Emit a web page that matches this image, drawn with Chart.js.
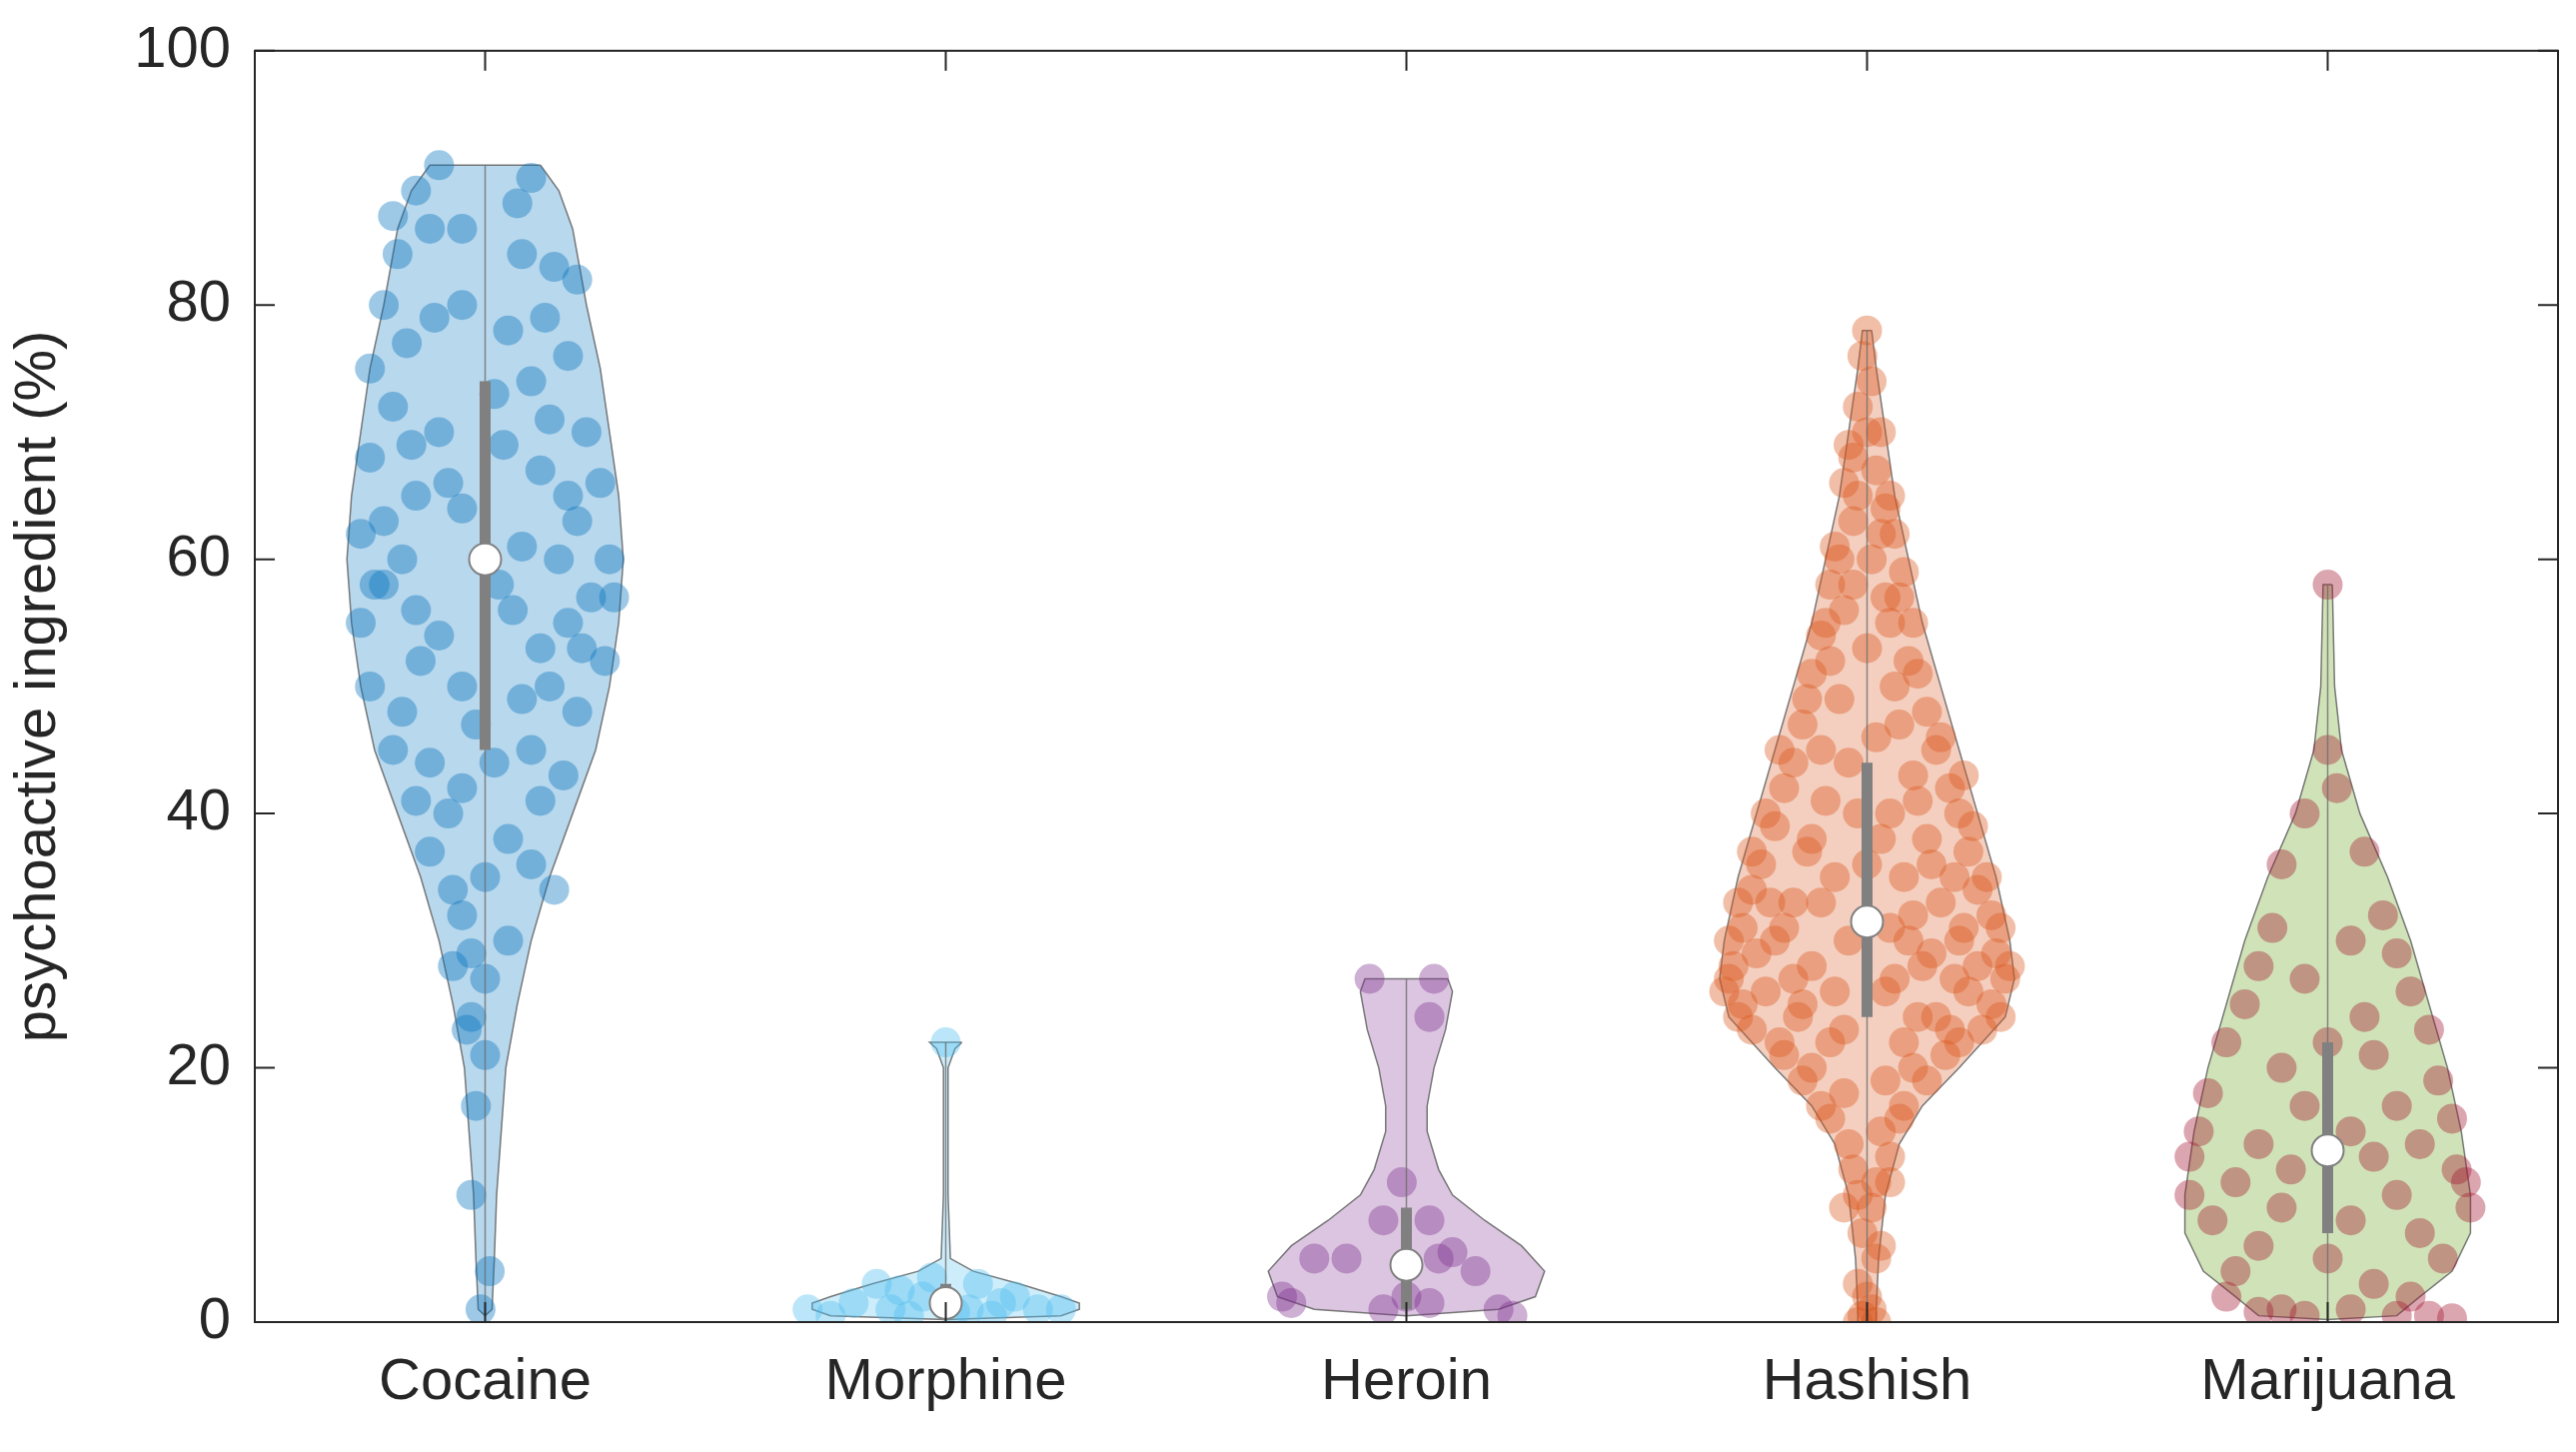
<!DOCTYPE html>
<html><head><meta charset="utf-8">
<script src="https://cdn.jsdelivr.net/npm/chart.js@4"></script>
<style>html,body{margin:0;padding:0;background:#fff}#w{width:2578px;height:1453px}</style>
</head><body><div id="w"><canvas id="c"></canvas></div>
<script>
const categories=["Cocaine","Morphine","Heroin","Hashish","Marijuana"];
const yTicks=[0,20,40,60,80,100];
const colors=["0,114,189","77,190,238","126,47,142","217,83,25","119,172,48"];
const pointColors=["0,114,189","77,190,238","126,47,142","217,83,25","162,20,47"];
// violin profiles: [value, half-width]
const violinCocaine=[[91,.12],[89,.16],[86,.19],[80,.22],[75,.25],[70,.27],[65,.29],[60,.3],[55,.29],[50,.27],[45,.24],[40,.19],[35,.14],[30,.1],[25,.07],[20,.045],[15,.035],[10,.025],[5,.02],[1,.015],[0.5,0]];
const violinMorphine=[[22,.035],[21.5,.02],[20,.005],[10,.005],[5,.01],[4,.06],[3,.16],[2,.25],[1.5,.29],[1,.29],[0.5,.25],[0.2,0]];
const violinHeroin=[[27,.09],[26,.1],[23,.085],[20,.06],[17,.045],[15,.045],[12,.07],[10,.1],[8,.17],[6,.25],[4,.3],[2,.28],[1,.2],[0.5,0]];
const violinHashish=[[78,.01],[75,.02],[70,.04],[65,.06],[60,.09],[55,.12],[50,.16],[45,.2],[40,.24],[35,.28],[30,.31],[27,.32],[24,.3],[20,.2],[17,.12],[14,.07],[10,.04],[5,.025],[1,.02],[0,.02]];
const violinMarijuana=[[58,.01],[50,.015],[45,.03],[40,.07],[35,.13],[30,.18],[25,.22],[20,.26],[15,.29],[10,.31],[7,.31],[4,.27],[2,.2],[0.5,.15],[0.2,0]];
const violins=[violinCocaine,violinMorphine,violinHeroin,violinHashish,violinMarijuana];
// quartiles, medians, ranges
const q1=[45,1,1,24,7], q3=[74,3,9,44,22], medians=[60,1.5,4.5,31.5,13.5];
const mins=[0.5,0.2,0.5,0,0.2], maxs=[91,22,27,78,58];
// sample points: [x offset, value]
const ptsCocaine=[[-.1,91],[.1,90],[-.15,89],[.07,88],[-.2,87],[-.12,86],[-.05,86],[.15,83],[.2,82],[-.22,80],[-.05,80],[.05,78],[.18,76],[-.25,75],[.1,74],[-.2,72],[.02,73],[-.1,70],[.22,70],[-.25,68],[.12,67],[-.15,65],[.25,66],[-.05,64],[.2,63],[-.27,62],[.08,61],[-.18,60],[.27,60],[-.22,58],[.23,57],[.28,57],[-.27,55],[.18,55],[-.1,54],[.12,53],[.26,52],[-.25,50],[-.05,50],[.08,49],[-.18,48],[.2,48],[-.2,45],[-.12,44],[.1,45],[.17,43],[-.05,42],[.12,41],[-.08,40],[.05,38],[-.12,37],[.1,36],[.15,34],[-.05,32],[.05,30],[-.03,29],[-.07,28],[0,27],[-.03,24],[-.04,23],[0,21],[-.02,17],[-.03,10],[.01,4],[-.01,1],[-.17,77],[.14,71],[-.08,66],[.03,58],[-.14,52],[.06,56],[-.22,63],[.16,60],[-.19,84],[.08,84],[-.11,79],[.13,79],[-.16,69],[.04,69],[.18,65],[-.24,58],[.21,53],[-.15,56],[-.02,47],[.14,50],[-.15,41],[.02,44],[.0,35],[-.07,34]];
const ptsMorphine=[[0,22],[-.3,1],[-.2,1.5],[-.12,1],[-.05,2],[.05,1],[.12,1.5],[.2,1],[-.15,3],[-.03,3.5],[.07,3],[.15,2],[.25,1],[-.25,.5],[.1,.5],[-.08,.5],[-.1,2.5],[.02,.8]];
const ptsHeroin=[[-.08,27],[.06,27],[.05,24],[-.01,11],[-.05,8],[.05,8],[-.2,5],[-.13,5],[.07,5],[.15,4],[-.27,2],[-.25,1.5],[-.05,1],[.05,1.5],[.2,1],[.23,.5],[0,2],[.1,5.5]];
const ptsHashish=[[0,78],[-.01,76],[.01,74],[-.02,72],[.03,70],[-.04,69],[.02,67],[-.05,66],[.05,65],[-.03,63],[.06,62],[-.07,61],[.01,60],[.08,59],[-.08,58],[.04,57],[-.05,56],[.1,55],[-.1,54],[0,53],[.09,52],[-.12,51],[.06,50],[-.06,49],[.13,48],[-.14,47],[.02,46],[.15,45],[-.16,44],[-.04,44],[.1,43],[.18,42],[-.18,42],[-.09,41],[.05,40],[.2,40],[-.2,39],[.13,38],[-.12,38],[.22,37],[-.23,36],[0,36],[.08,35],[-.07,35],[.24,34],[-.25,34],[.16,33],[-.16,33],[.27,32],[-.27,31],[.05,31],[-.04,30],[.2,30],[-.2,30],[.28,29],[-.29,28],[.12,28],[-.12,28],[.3,27],[-.3,27],[.22,26],[-.22,26],[.04,26],[.27,25],[-.27,25],[.15,24],[-.15,24],[.25,23],[-.25,23],[.08,22],[-.08,22],[.17,21],[-.18,21],[.1,20],[-.12,20],[.04,19],[-.05,18],[.08,17],[-.08,16],[.03,15],[-.04,14],[.05,13],[-.03,12],[.02,11],[-.02,10],[.01,9],[-.01,7],[.02,5],[-.02,3],[0,2],[.01,1],[-.01,.5],[.02,0],[-.02,0],[.19,35],[-.1,33],[.1,32],[-.18,31],[.24,28],[-.24,29],[.06,27],[-.07,26],[.19,27],[-.14,25],[.11,24],[-.05,23],[.2,22],[.14,36],[-.13,37],[.11,41],[-.1,45],[.07,47],[-.08,52],[.05,55],[-.03,58],[.03,62],[-.02,65],[.14,29],[-.16,27],[.09,30],[.21,31],[-.21,33],[.03,38],[-.02,40],[.0,70],[-.03,68],[.04,64],[-.06,60],[.07,57],[-.09,55],[.11,51],[-.13,49],[.16,46],[-.19,45],[.21,43],[-.22,40],[.23,39],[-.25,37],[.26,35],[-.28,33],[.29,31],[-.3,30],[.31,28],[-.31,26],[.29,24],[-.28,24],[.18,23],[-.19,22],[.13,19],[-.14,19],[.07,16],[-.1,17],[.05,11],[-.05,9],[.03,6]];
const ptsMarijuana=[[0,58],[0,45],[.02,42],[-.05,40],[.08,37],[-.1,36],[.12,32],[-.12,31],[.05,30],[.15,29],[-.15,28],[-.05,27],[.18,26],[-.18,25],[.08,24],[.22,23],[-.22,22],[0,22],[.1,21],[-.1,20],[.24,19],[-.26,18],[.15,17],[-.05,17],[.27,16],[-.28,15],[.05,15],[-.15,14],[.2,14],[-.3,13],[.1,13],[-.08,12],[.28,12],[.3,11],[-.2,11],[.15,10],[-.3,10],[-.1,9],[.31,9],[.05,8],[-.25,8],[.2,7],[-.15,6],[.25,5],[0,5],[-.2,4],[.1,3],[-.22,2],[.18,2],[-.1,1],[.05,1],[-.15,.8],[.15,.5],[.22,.5],[-.05,.5],[.27,.3]];
const points=[ptsCocaine,ptsMorphine,ptsHeroin,ptsHashish,ptsMarijuana];

const datasets=[];
violins.forEach((v,i)=>{
  const x=i+1;
  const outline=v.map(p=>({x:x+p[1],y:p[0]})).concat(v.slice().reverse().map(p=>({x:x-p[1],y:p[0]})));
  outline.push(outline[0]);
  datasets.push({type:'line',data:outline,borderColor:'rgba(90,90,90,0.8)',borderWidth:1.5,backgroundColor:`rgba(${colors[i]},${i==4?0.35:0.28})`,fill:'shape',pointRadius:0,tension:0,order:5});
});
points.forEach((p,i)=>{
  datasets.push({type:'scatter',data:p.map(q=>({x:i+1+q[0],y:q[1]})),backgroundColor:`rgba(${pointColors[i]},0.38)`,borderWidth:0,pointRadius:15,order:4});
});
categories.forEach((c,i)=>{
  datasets.push({type:'line',data:[{x:i+1,y:mins[i]},{x:i+1,y:maxs[i]}],borderColor:'rgba(110,110,110,0.8)',borderWidth:1.5,pointRadius:0,order:3});
  datasets.push({type:'line',data:[{x:i+1,y:q1[i]},{x:i+1,y:q3[i]}],borderColor:'rgb(128,128,128)',borderWidth:11,pointRadius:0,borderCapStyle:'butt',order:2});
  datasets.push({type:'scatter',data:[{x:i+1,y:medians[i]}],backgroundColor:'#fff',borderColor:'rgb(128,128,128)',borderWidth:2,pointRadius:16,order:1});
});

const frame={id:'frame',afterDraw(ch){
  const {ctx,chartArea:a,scales:{x,y}}=ch;
  ctx.save();ctx.strokeStyle='#262626';ctx.lineWidth=2;
  ctx.strokeRect(a.left,a.top,a.right-a.left,a.bottom-a.top);
  const L=20;
  yTicks.forEach(t=>{const p=y.getPixelForValue(t);ctx.beginPath();ctx.moveTo(a.left,p);ctx.lineTo(a.left+L,p);ctx.moveTo(a.right,p);ctx.lineTo(a.right-L,p);ctx.stroke();});
  categories.forEach((c,i)=>{const p=x.getPixelForValue(i+1);ctx.beginPath();ctx.moveTo(p,a.bottom);ctx.lineTo(p,a.bottom-L);ctx.moveTo(p,a.top);ctx.lineTo(p,a.top+L);ctx.stroke();});
  ctx.restore();
}};

new Chart(document.getElementById('c'),{
  data:{datasets},
  options:{responsive:true,maintainAspectRatio:false,animation:false,devicePixelRatio:1,
    layout:{padding:{top:49,right:5,left:0,bottom:0}},
    plugins:{legend:{display:false},tooltip:{enabled:false}},
    scales:{
      x:{type:'linear',min:0.5,max:5.5,grid:{display:false},border:{display:false},
        afterBuildTicks:s=>{s.ticks=categories.map((c,i)=>({value:i+1}));},
        afterFit:s=>{s.height=130;},
        ticks:{callback:(v)=>categories[v-1],color:'#262626',font:{family:'Liberation Sans, Arial',size:58},padding:18}},
      y:{min:0,max:100,grid:{display:false},border:{display:false},
        afterBuildTicks:s=>{s.ticks=yTicks.map(v=>({value:v}));},
        afterFit:s=>{s.width=255;},
        title:{display:true,text:'psychoactive ingredient (%)',color:'#262626',font:{family:'Liberation Sans, Arial',size:58},padding:{bottom:14}},
        ticks:{color:'#262626',font:{family:'Liberation Sans, Arial',size:58},padding:16}}
    }},
  plugins:[frame]
});
</script></body></html>
